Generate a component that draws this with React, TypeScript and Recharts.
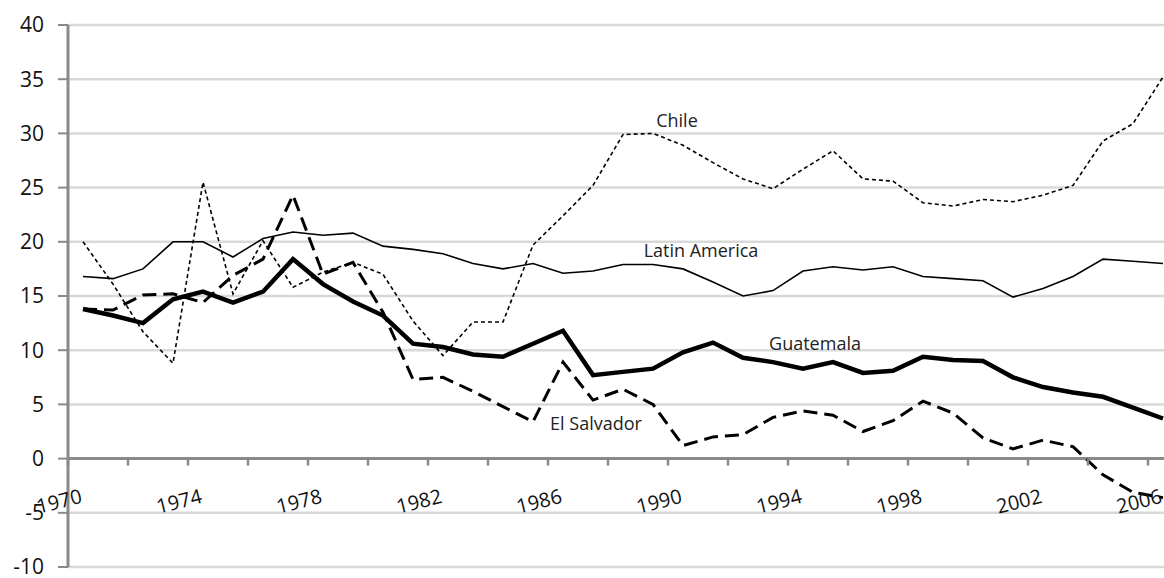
import React from 'react';
import { LineChart, Line, XAxis, YAxis, CartesianGrid, ReferenceLine, ReferenceDot } from 'recharts';

// ---- data ----
const years = [
  1970, 1971, 1972, 1973, 1974, 1975, 1976, 1977, 1978, 1979,
  1980, 1981, 1982, 1983, 1984, 1985, 1986, 1987, 1988, 1989,
  1990, 1991, 1992, 1993, 1994, 1995, 1996, 1997, 1998, 1999,
  2000, 2001, 2002, 2003, 2004, 2005, 2006,
];

const latinAmerica = [
  16.8, 16.6, 17.5, 20.0, 20.0, 18.6, 20.3, 20.9, 20.6, 20.8,
  19.6, 19.3, 18.9, 18.0, 17.5, 18.0, 17.1, 17.3, 17.9, 17.9,
  17.5, 16.3, 15.0, 15.5, 17.3, 17.7, 17.4, 17.7, 16.8, 16.6,
  16.4, 14.9, 15.7, 16.8, 18.4, 18.2, 18.0,
];

const chile = [
  20.0, 16.1, 11.7, 8.8, 25.5, 15.2, 20.1, 15.8, 17.2, 18.1,
  17.0, 12.7, 9.5, 12.6, 12.6, 19.7, 22.4, 25.2, 29.9, 30.0,
  28.9, 27.3, 25.8, 24.9, 26.7, 28.4, 25.8, 25.6, 23.6, 23.3,
  23.9, 23.7, 24.3, 25.2, 29.3, 30.9, 35.2,
];

const guatemala = [
  13.8, 13.2, 12.5, 14.7, 15.4, 14.4, 15.4, 18.4, 16.1, 14.5,
  13.2, 10.6, 10.3, 9.6, 9.4, 10.6, 11.8, 7.7, 8.0, 8.3,
  9.8, 10.7, 9.3, 8.9, 8.3, 8.9, 7.9, 8.1, 9.4, 9.1,
  9.0, 7.5, 6.6, 6.1, 5.7, 4.7, 3.7,
];

const elSalvador = [
  13.8, 13.7, 15.1, 15.2, 14.4, 16.9, 18.4, 24.3, 17.0, 18.1,
  13.5, 7.3, 7.5, 6.2, 4.8, 3.4, 8.9, 5.4, 6.4, 5.0,
  1.2, 2.0, 2.2, 3.8, 4.4, 4.0, 2.5, 3.5, 5.3, 4.2,
  1.9, 0.9, 1.7, 1.1, -1.5, -3.1, -3.6,
];

const yTicks = [-10, -5, 0, 5, 10, 15, 20, 25, 30, 35, 40];
const xLabelTicks = [1970, 1974, 1978, 1982, 1986, 1990, 1994, 1998, 2002, 2006];

const annotationTexts = ['Chile', 'Latin America', 'Guatemala', 'El Salvador'];
const annotationYears = [1989.8, 1990.6, 1994.4, 1987.1];
const annotationValues = [31.2, 19.2, 10.6, 3.2];

// ---- layout ----
const CHART_W = 1190;
const CHART_H = 578;
const X_AXIS_H = 1;
const MARGIN = { top: 25, right: 12, bottom: 11 - X_AXIS_H, left: 0 };
const Y_AXIS_W = 68;
const Y_MIN = -10;
const Y_MAX = 40;
const PLOT_H = CHART_H - MARGIN.top - MARGIN.bottom - X_AXIS_H;
const ZERO_OFFSET = (PLOT_H * (0 - Y_MIN)) / (Y_MAX - Y_MIN);
const FONT = "'Open Sans', 'DejaVu Sans', sans-serif";
const AXIS_GRAY = '#8a8a8a';

const data = years.map((year, i) => ({
  year,
  latinAmerica: latinAmerica[i],
  chile: chile[i],
  guatemala: guatemala[i],
  elSalvador: elSalvador[i],
}));

// category boundaries every two years (tick marks between categories)
const xMinorTicks = years.filter((_, i) => i % 2 === 0).map((y) => y - 0.5);
const allXTicks = [...xMinorTicks, ...xLabelTicks].sort((a, b) => a - b);
const annotations = annotationTexts.map((text, i) => ({
  text,
  year: annotationYears[i],
  value: annotationValues[i],
}));

// y passed in is the plot's bottom edge; shift up to the zero line
function xTick(props: any) {
  const { x, y, payload } = props;
  const zy = y - ZERO_OFFSET;
  const v = payload.value;
  if (!Number.isInteger(v)) {
    return (
      <line
        key={`mt-${v}`}
        x1={x}
        x2={x}
        y1={zy}
        y2={zy + 7}
        stroke={AXIS_GRAY}
        strokeWidth={2.5}
      />
    );
  }
  const ay = zy + 44;
  return (
    <text
      key={`yl-${v}`}
      x={x}
      y={ay}
      textAnchor="end"
      transform={`rotate(-14 ${x} ${ay})`}
      fontSize={20}
      fontFamily={FONT}
      fill="#111"
    >
      {v}
    </text>
  );
}

export default function App() {
  return (
    <div
      style={{
        position: 'fixed',
        left: 0,
        top: 0,
        width: 1164,
        height: 578,
        overflow: 'hidden',
        background: '#fff',
      }}
    >
      <LineChart width={CHART_W} height={CHART_H} data={data} margin={MARGIN}>
        <CartesianGrid vertical={false} stroke="#d9d9d9" strokeWidth={2.5} />
        <YAxis
          width={Y_AXIS_W}
          domain={[Y_MIN, Y_MAX]}
          ticks={yTicks}
          interval={0}
          axisLine={{ stroke: AXIS_GRAY, strokeWidth: 3 }}
          tickLine={{ stroke: AXIS_GRAY, strokeWidth: 2 }}
          tickSize={10}
          tickMargin={14}
          tick={{ fontSize: 21, fontFamily: FONT, fill: '#111' }}
        />
        <ReferenceLine y={0} stroke={AXIS_GRAY} strokeWidth={3} />
        <XAxis
          dataKey="year"
          type="number"
          domain={[1969.5, 2006.5]}
          ticks={allXTicks}
          interval={0}
          height={X_AXIS_H}
          axisLine={false}
          tickLine={false}
          tickSize={0}
          tickMargin={0}
          tick={xTick}
        />
        <Line
          dataKey="latinAmerica"
          stroke="#000"
          strokeWidth={1.6}
          dot={false}
          isAnimationActive={false}
        />
        <Line
          dataKey="chile"
          stroke="#000"
          strokeWidth={1.6}
          strokeDasharray="4 3"
          dot={false}
          isAnimationActive={false}
        />
        <Line
          dataKey="elSalvador"
          stroke="#000"
          strokeWidth={3}
          strokeDasharray="14 7"
          dot={false}
          isAnimationActive={false}
        />
        <Line
          dataKey="guatemala"
          stroke="#000"
          strokeWidth={4.5}
          dot={false}
          isAnimationActive={false}
        />
        {annotations.map((a) => (
          <ReferenceDot
            key={a.text}
            x={a.year}
            y={a.value}
            r={0}
            fill="none"
            stroke="none"
            label={{
              value: a.text,
              position: 'center',
              fontSize: 18,
              fontFamily: FONT,
              fill: '#222',
            }}
          />
        ))}
      </LineChart>
    </div>
  );
}
